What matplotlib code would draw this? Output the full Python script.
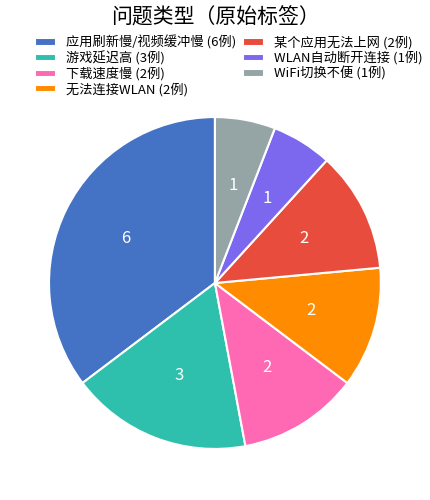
import matplotlib
matplotlib.use("Agg")
import matplotlib.pyplot as plt

plt.rcParams['font.family'] = ['Noto Sans CJK SC', 'DejaVu Sans']

categories = ["应用刷新慢/视频缓冲慢", "游戏延迟高", "下载速度慢", "无法连接WLAN",
              "某个应用无法上网", "WLAN自动断开连接", "WiFi切换不便"]
counts = [6, 3, 2, 2, 2, 1, 1]
colors = ["#4472C4", "#2EBFAD", "#FF69B4", "#FF8C00", "#E74C3C", "#7B68EE", "#95A5A6"]

fig = plt.figure(figsize=(4.31, 5), dpi=100)
ax = fig.add_axes([0.1137, 0.102, 0.770, 0.664])

wedges, texts, autotexts = ax.pie(
    counts, colors=colors, startangle=90, counterclock=True,
    autopct=lambda p: "%d" % round(p * sum(counts) / 100),
    pctdistance=0.6,
    wedgeprops=dict(edgecolor="white", linewidth=1.5),
    textprops=dict(color="white", fontsize=12))
ax.set_xlim(-1, 1)
ax.set_ylim(-1, 1)
ax.set_aspect("equal")

labels = ["%s (%d例)" % (c, n) for c, n in zip(categories, counts)]
fig.legend(wedges, labels, loc="upper left", bbox_to_anchor=(0.081, 0.929),
           ncol=2, frameon=False, fontsize=9.5, handlelength=1.6,
           handleheight=0.45, handletextpad=0.75, labelspacing=0.12,
           columnspacing=0.5, borderpad=0, borderaxespad=0)

fig.suptitle("问题类型（原始标签）", fontsize=15, y=0.986)

fig.savefig("out.png", dpi=100)
